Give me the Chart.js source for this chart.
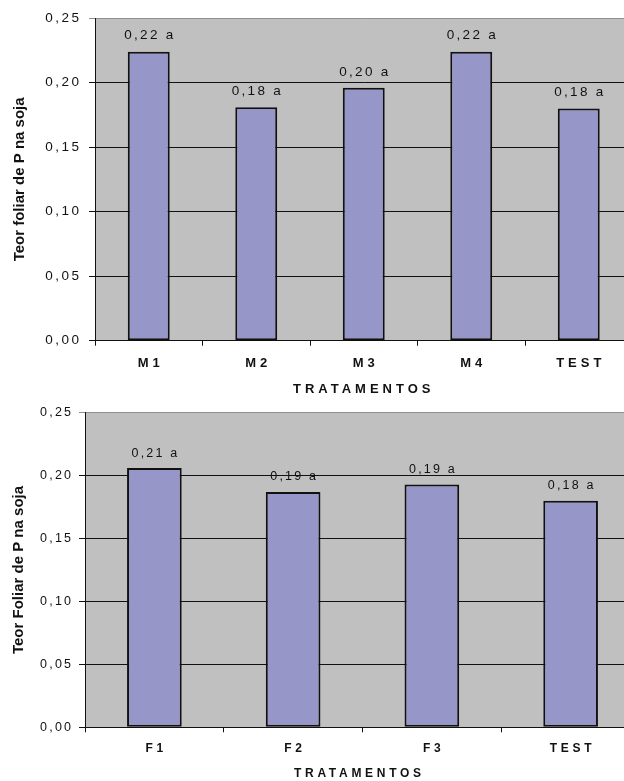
<!DOCTYPE html>
<html>
<head>
<meta charset="utf-8">
<script src="https://cdn.jsdelivr.net/npm/chart.js@4.4.1/dist/chart.umd.min.js"></script>
<style>
  html, body { margin: 0; padding: 0; background: #fff; overflow: hidden; width: 624px; height: 781px; }
  canvas { position: absolute; left: 0; }
  #chartTop { top: 0; }
  #chartBottom { top: 395px; }
</style>
</head>
<body>
<canvas id="chartTop" width="640" height="400"></canvas>
<canvas id="chartBottom" width="640" height="386"></canvas>
<script>
// Soybean leaf P content per treatment (two experiments)
const topCategories = ['M1', 'M2', 'M3', 'M4', 'TEST'];
const topValues = [0.224, 0.181, 0.196, 0.224, 0.180];
const topGroups = ['a', 'a', 'a', 'a', 'a'];

const bottomCategories = ['F1', 'F2', 'F3', 'TEST'];
const bottomValues = [0.206, 0.187, 0.193, 0.180];
const bottomGroups = ['a', 'a', 'a', 'a'];

const yMin = 0;
const yMax = 0.25;
const yStep = 0.05;

const xTitle = 'TRATAMENTOS';
const topYTitle = 'Teor foliar de P na soja';
const bottomYTitle = 'Teor Foliar de P na soja';

const FONT = '"Liberation Sans", Arial, sans-serif';
const TEXT = '#111';
const fmt = v => v.toFixed(2).replace('.', ',');

// grey plot area fill
const plotBackground = {
  id: 'plotBackground',
  beforeDraw(chart) {
    const { ctx, chartArea: a } = chart;
    ctx.save();
    ctx.fillStyle = '#c0c0c0';
    ctx.fillRect(a.left, a.top, a.right - a.left, a.bottom - a.top);
    ctx.restore();
  }
};

// letter spacing for axis labels and titles
const spacedText = {
  id: 'spacedText',
  afterLayout(chart, args, opts) {
    for (const s of Object.values(chart.scales)) {
      if (s._spacedPatched) continue;
      s._spacedPatched = true;
      const cfg = opts[s.id] || {};
      const drawLabels = s.drawLabels;
      const drawTitle = s.drawTitle;
      s.drawLabels = function (area) {
        const c = this.ctx;
        c.save();
        c.letterSpacing = (cfg.ticks || 0) + 'px';
        c.translate(cfg.dx || 0, 0);
        drawLabels.call(this, area);
        c.restore();
      };
      s.drawTitle = function () {
        const c = this.ctx;
        c.save();
        c.letterSpacing = (cfg.title || 0) + 'px';
        c.translate(cfg.titleDx || 0, cfg.titleDy || 0);
        drawTitle.call(this);
        c.restore();
      };
    }
  }
};

// value + significance letter above each bar
const barLabels = {
  id: 'barLabels',
  afterDatasetsDraw(chart, args, opts) {
    const { ctx } = chart;
    const ds = chart.data.datasets[0];
    const meta = chart.getDatasetMeta(0);
    ctx.save();
    ctx.font = opts.size + 'px ' + FONT;
    ctx.fillStyle = TEXT;
    ctx.textAlign = 'center';
    ctx.textBaseline = 'middle';
    ctx.letterSpacing = opts.spacing + 'px';
    meta.data.forEach((bar, i) => {
      const txt = fmt(ds.data[i]) + ' ' + opts.groups[i];
      ctx.fillText(txt, bar.x + opts.spacing / 2, bar.y - opts.offset);
    });
    ctx.restore();
  }
};

function makeChart(id, cats, vals, groups, yTitle, g) {
  return new Chart(document.getElementById(id), {
    type: 'bar',
    data: {
      labels: cats,
      datasets: [{
        data: vals,
        backgroundColor: '#9696c8',
        borderColor: '#111',
        borderWidth: 2,
        borderSkipped: false,
        barPercentage: g.barPct,
        categoryPercentage: 1
      }]
    },
    options: {
      responsive: false,
      animation: false,
      devicePixelRatio: 1,
      layout: { padding: { top: g.padTop, right: g.padRight, left: 0, bottom: 0 } },
      plugins: {
        legend: { display: false },
        tooltip: { enabled: false },
        barLabels: { groups: groups, size: g.labelSize, spacing: g.labelSpacing, offset: g.labelOffset },
        spacedText: {
          x: { ticks: g.xSpacing, dx: g.xSpacing / 2, title: g.xSpacing, titleDx: g.xSpacing / 2 + g.xTitleDx },
          y: { ticks: g.ySpacing, dx: g.ySpacing, title: 0, titleDy: 0 }
        }
      },
      scales: {
        x: {
          offset: true,
          grid: { display: true, drawOnChartArea: false, drawTicks: true, tickLength: 5, color: '#111', offset: true },
          border: { display: true, color: '#111', width: 1 },
          ticks: {
            color: TEXT,
            padding: g.xTickPad,
            maxRotation: 0,
            autoSkip: false,
            font: { family: FONT, size: g.xFont, weight: 'bold' }
          },
          title: {
            display: true,
            text: xTitle,
            color: TEXT,
            font: { family: FONT, size: g.xFont, weight: 'bold' },
            padding: { top: 0, bottom: g.xTitlePadBottom }
          },
          afterFit(scale) { scale.height = g.xHeight; }
        },
        y: {
          min: yMin,
          max: yMax,
          grid: {
            color: ctx => (ctx.tick && Math.abs(ctx.tick.value - yMax) < 1e-9) ? '#909090' : '#111',
            lineWidth: 1,
            drawTicks: true,
            tickLength: 6
          },
          border: { display: true, color: '#111', width: 1 },
          ticks: {
            stepSize: yStep,
            color: TEXT,
            padding: g.yTickPad,
            font: { family: FONT, size: g.yFont },
            callback: v => fmt(v)
          },
          title: {
            display: true,
            text: yTitle,
            color: '#111',
            font: { family: FONT, size: 15, weight: 'bold' },
            padding: { top: g.yTitlePad, bottom: 0 }
          },
          afterFit(scale) { scale.width = g.yWidth; }
        }
      }
    },
    plugins: [plotBackground, spacedText, barLabels]
  });
}

makeChart('chartTop', topCategories, topValues, topGroups, topYTitle, {
  barPct: 0.39, padTop: 17, padRight: 7.5, xHeight: 59.3, yWidth: 95,
  xFont: 13, xSpacing: 4, xTickPad: 10, xTitlePadBottom: 3, xTitleDx: -2,
  yFont: 13.5, ySpacing: 2.5, yTickPad: 10, yTitlePad: 11,
  labelSize: 13.5, labelSpacing: 2.3, labelOffset: 16
});

makeChart('chartBottom', bottomCategories, bottomValues, bottomGroups, bottomYTitle, {
  barPct: 0.394, padTop: 17.7, padRight: 0, xHeight: 53.7, yWidth: 85,
  xFont: 12, xSpacing: 3.7, xTickPad: 9, xTitlePadBottom: 0, xTitleDx: -5,
  yFont: 12.5, ySpacing: 2.2, yTickPad: 8, yTitlePad: 10,
  labelSize: 12.5, labelSpacing: 2.2, labelOffset: 15
});
</script>
</body>
</html>
